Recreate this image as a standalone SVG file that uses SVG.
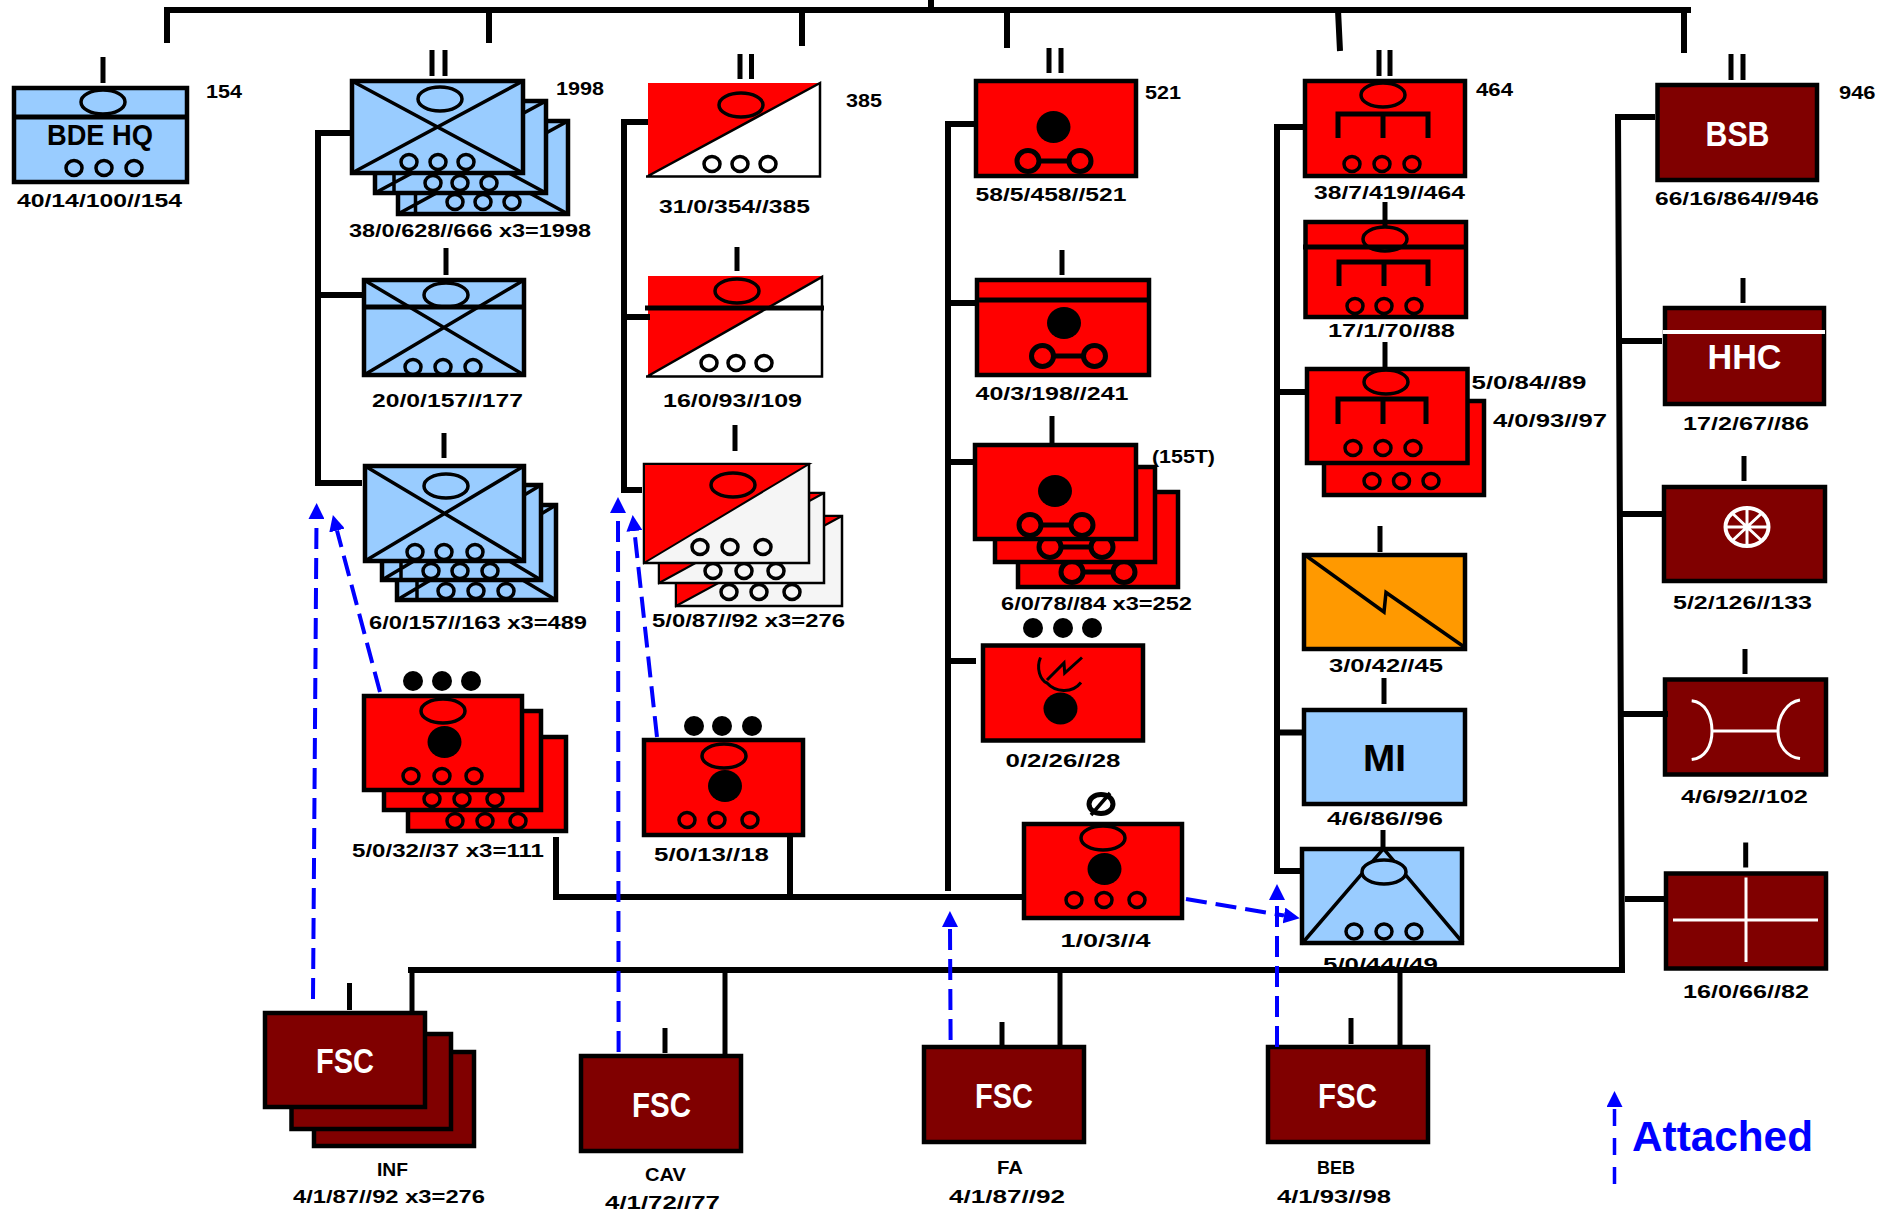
<svg xmlns="http://www.w3.org/2000/svg" width="1898" height="1214" viewBox="0 0 1898 1214">
<style>
text{font-family:"Liberation Sans",Arial,sans-serif;font-weight:bold;fill:#000}
.l{font-size:18.5px}
.w{font-size:35px;fill:#fff}
.b{fill:#99CCFF;stroke:#000;stroke-width:4.5}
.r{fill:#FF0000;stroke:#000;stroke-width:4.5}
.d{fill:#800000;stroke:#000;stroke-width:4.5}
.o{fill:#FF9900;stroke:#000;stroke-width:4.5}
.g{fill:#F5F5F5;stroke:#000;stroke-width:2.5}
.k{fill:none;stroke:#000;stroke-width:3.5}
.m{fill:none;stroke:#000;stroke-width:5}
.f{fill:none;stroke:#000;stroke-width:6}
.x{fill:none;stroke:#fff;stroke-width:3}
.a{fill:none;stroke:#0000FF;stroke-width:4;stroke-dasharray:21 9;marker-end:url(#head)}
</style>
<defs>
<ellipse id="c" rx="8" ry="7.5" fill="none" stroke="#000" stroke-width="3.5"/>
<ellipse id="e" rx="22" ry="12" fill="none" stroke="#000" stroke-width="3.5"/>
<ellipse id="dot" rx="10" ry="10" fill="#000"/>
<ellipse id="bk" rx="17" ry="16" fill="#000"/>
<g id="ring" fill="none" stroke="#000"><ellipse cx="-26" rx="11" ry="10.5" stroke-width="5"/><ellipse cx="26" rx="11" ry="10.5" stroke-width="5"/><path d="M-15,0H15" stroke-width="5"/></g>
<marker id="head" viewBox="0 0 16 16" markerWidth="16" markerHeight="16" refX="0" refY="8" orient="auto" markerUnits="userSpaceOnUse"><path d="M0,0L16,8L0,16z" fill="#0000FF"/></marker>
</defs>

<g id="bde-hq">
<rect class="b" x="14" y="88" width="173" height="94"/><path class="m" d="M12,117H189"/>
<use href="#e" x="103" y="102"/><path class="m" d="M103,57V83"/>
<text x="47" y="145" font-size="29" textLength="106" lengthAdjust="spacingAndGlyphs">BDE HQ</text>
<use href="#c" x="74" y="168"/><use href="#c" x="104" y="168"/><use href="#c" x="134" y="168"/>
<text class="l" x="17" y="207" textLength="165" lengthAdjust="spacingAndGlyphs">40/14/100//154</text>
<text class="l" x="206" y="98" textLength="36" lengthAdjust="spacingAndGlyphs">154</text>
</g>

<g id="inf-bn">
<rect class="b" x="398" y="121" width="170" height="93"/><path class="k" d="M398,214L568,121M398,121L568,214M415.500,195V216"/>
<use href="#c" x="455" y="202"/><use href="#c" x="483" y="202"/><use href="#c" x="512" y="202"/>
<rect class="b" x="375" y="101" width="171" height="92"/><path class="k" d="M375,193L546,101M375,101L546,193M394,175V195"/>
<use href="#c" x="433" y="183"/><use href="#c" x="460" y="183"/><use href="#c" x="489" y="183"/>
<rect class="b" x="352" y="81" width="171" height="92"/><path class="k" d="M352,173L523,81M352,81L523,173"/>
<use href="#e" x="440" y="99"/><use href="#c" x="409" y="162"/><use href="#c" x="438" y="162"/><use href="#c" x="466" y="162"/>
<path class="m" d="M432,50V76M445,50V76"/>
<text class="l" x="556" y="95" textLength="48" lengthAdjust="spacingAndGlyphs">1998</text>
<text class="l" x="349" y="237" textLength="242" lengthAdjust="spacingAndGlyphs">38/0/628//666 x3=1998</text>
</g>

<g id="inf-hhc">
<rect class="b" x="364" y="280" width="160" height="95"/><path class="k" d="M364,375L524,280M364,280L524,375"/><path class="m" d="M365,307H525"/>
<use href="#e" x="446" y="295"/><use href="#c" x="413" y="367"/><use href="#c" x="443" y="367"/><use href="#c" x="473" y="367"/>
<path class="m" d="M446,248V275"/>
<text class="l" x="372" y="407" textLength="151" lengthAdjust="spacingAndGlyphs">20/0/157//177</text>
</g>

<g id="inf-co">
<rect class="b" x="397" y="505" width="159" height="95"/><path class="k" d="M397,600L556,505M397,505L556,600M417,582V602"/>
<use href="#c" x="446" y="591"/><use href="#c" x="476" y="591"/><use href="#c" x="506" y="591"/>
<rect class="b" x="382" y="485" width="159" height="95"/><path class="k" d="M382,580L541,485M382,485L541,580M401,563V582"/>
<use href="#c" x="431" y="571"/><use href="#c" x="460" y="571"/><use href="#c" x="490" y="571"/>
<rect class="b" x="365" y="466" width="159" height="95"/><path class="k" d="M365,561L524,466M365,466L524,561"/>
<use href="#e" x="446" y="486"/><use href="#c" x="415" y="552"/><use href="#c" x="444" y="552"/><use href="#c" x="475" y="552"/>
<path class="m" d="M444,433V458"/>
<text class="l" x="369" y="629" textLength="218" lengthAdjust="spacingAndGlyphs">6/0/157//163 x3=489</text>
</g>

<g id="inf-mortar">
<rect class="r" x="408" y="737" width="158" height="94"/><use href="#c" x="455" y="821"/><use href="#c" x="485" y="821"/><use href="#c" x="518" y="821"/>
<rect class="r" x="384" y="711" width="157" height="99"/><use href="#c" x="432" y="799"/><use href="#c" x="462" y="799"/><use href="#c" x="495" y="799"/>
<rect class="r" x="364" y="696" width="158" height="94"/>
<use href="#e" x="443" y="711"/><use href="#bk" x="444.500" y="742"/><use href="#c" x="411" y="776"/><use href="#c" x="442" y="776"/><use href="#c" x="474" y="776"/>
<use href="#dot" x="413" y="681"/><use href="#dot" x="442" y="681"/><use href="#dot" x="471" y="681"/>
<text class="l" x="352" y="857" textLength="192" lengthAdjust="spacingAndGlyphs">5/0/32//37 x3=111</text>
</g>

<g id="cav-mortar">
<rect class="r" x="644" y="740" width="159" height="95"/>
<use href="#e" x="724" y="756"/><use href="#bk" x="725" y="786"/><use href="#c" x="687" y="820"/><use href="#c" x="717" y="820"/><use href="#c" x="750" y="820"/>
<use href="#dot" x="694" y="726"/><use href="#dot" x="722" y="726"/><use href="#dot" x="752" y="726"/>
<text class="l" x="654" y="861" textLength="115" lengthAdjust="spacingAndGlyphs">5/0/13//18</text>
</g>

<g id="cav-sqn">
<path d="M648,83H820V176H648z" fill="#fff" stroke="none"/>
<path d="M648,83H820L648,176z" fill="#FF0000"/>
<path d="M646,176.500H820V83L648,176" fill="none" stroke="#000" stroke-width="2.5"/>
<use href="#e" x="741" y="105"/><use href="#c" x="712" y="164"/><use href="#c" x="740" y="164"/><use href="#c" x="768" y="164"/>
<path class="m" d="M740,54V79M751.500,54V79"/>
<text class="l" x="846" y="107" textLength="36" lengthAdjust="spacingAndGlyphs">385</text>
<text class="l" x="659" y="213" textLength="151" lengthAdjust="spacingAndGlyphs">31/0/354//385</text>
</g>

<g id="cav-hhc">
<path d="M648,276H822V376H648z" fill="#fff" stroke="none"/>
<path d="M648,276H822L648,376z" fill="#FF0000"/>
<path d="M646,376.500H822V277L648,376" fill="none" stroke="#000" stroke-width="2.5"/>
<path class="m" d="M645,308H824"/>
<use href="#e" x="737" y="291"/><use href="#c" x="709" y="363"/><use href="#c" x="736" y="363"/><use href="#c" x="764" y="363"/>
<path class="m" d="M737,247V271"/>
<text class="l" x="663" y="407" textLength="139" lengthAdjust="spacingAndGlyphs">16/0/93//109</text>
</g>

<g id="cav-troop">
<rect class="g" x="676" y="516" width="166" height="90"/><path d="M676,606L842,516H676z" fill="#FF0000" stroke="#000" stroke-width="2"/>
<use href="#c" x="729" y="592"/><use href="#c" x="759" y="592"/><use href="#c" x="792" y="592"/>
<rect class="g" x="659" y="493" width="165" height="90"/><path d="M659,583L824,493H659z" fill="#FF0000" stroke="#000" stroke-width="2"/>
<use href="#c" x="713" y="571"/><use href="#c" x="744" y="571"/><use href="#c" x="776" y="571"/>
<rect class="g" x="644" y="464" width="165" height="99"/><path d="M644,563L809,464H644z" fill="#FF0000" stroke="#000" stroke-width="2"/>
<use href="#e" x="733" y="485"/><use href="#c" x="700" y="547"/><use href="#c" x="730" y="547"/><use href="#c" x="763" y="547"/>
<path class="m" d="M735,425V451"/>
<text class="l" x="652" y="627" textLength="193" lengthAdjust="spacingAndGlyphs">5/0/87//92 x3=276</text>
</g>

<g id="fa-bn">
<rect class="r" x="976" y="81" width="160" height="95"/><use href="#bk" x="1053.500" y="127"/><use href="#ring" x="1054" y="161"/>
<path class="m" d="M1049,48V73M1061,48V73"/>
<text class="l" x="1145" y="99" textLength="36" lengthAdjust="spacingAndGlyphs">521</text>
<text class="l" x="975.500" y="201" textLength="151" lengthAdjust="spacingAndGlyphs">58/5/458//521</text>
</g>

<g id="fa-hhb">
<rect class="r" x="977" y="280" width="172" height="95"/><path class="m" d="M975,300H1151"/>
<use href="#bk" x="1064" y="323"/><use href="#ring" x="1068.500" y="356"/>
<path class="m" d="M1062,250V275"/>
<text class="l" x="975.500" y="400" textLength="153" lengthAdjust="spacingAndGlyphs">40/3/198//241</text>
</g>

<g id="fa-bty">
<rect class="r" x="1018" y="492" width="160" height="95"/><use href="#ring" x="1098" y="572"/>
<rect class="r" x="995" y="467" width="160" height="95"/><use href="#ring" x="1076" y="547"/>
<rect class="r" x="975" y="445" width="161" height="94"/><use href="#bk" x="1055" y="491"/><use href="#ring" x="1056" y="525"/>
<path class="m" d="M1052,416V443"/>
<text class="l" x="1152" y="463" textLength="63" lengthAdjust="spacingAndGlyphs">(155T)</text>
<text class="l" x="1001" y="610" textLength="191" lengthAdjust="spacingAndGlyphs">6/0/78//84 x3=252</text>
</g>

<g id="fa-radar">
<rect class="r" x="983" y="645.500" width="160" height="95"/>
<use href="#dot" x="1033" y="628"/><use href="#dot" x="1063" y="628"/><use href="#dot" x="1092" y="628"/>
<use href="#bk" x="1060.500" y="708.500"/>
<path fill="none" stroke="#000" stroke-width="3" d="M1040.500,657.500C1036,668 1040,680 1047,683C1055,692 1072,694 1081,682.500M1047,680L1064,663L1064.700,673L1082,657.500"/>
<text class="l" x="1005.500" y="767" textLength="115" lengthAdjust="spacingAndGlyphs">0/2/26//28</text>
</g>

<g id="fa-mortar">
<rect class="r" x="1024" y="824" width="158" height="94"/>
<ellipse cx="1101" cy="804" rx="12" ry="9.500" fill="none" stroke="#000" stroke-width="5"/><path class="k" d="M1110,793L1091,815"/>
<use href="#e" x="1103" y="838"/><use href="#bk" x="1104.500" y="869"/><use href="#c" x="1074" y="900"/><use href="#c" x="1104" y="900"/><use href="#c" x="1137" y="900"/>
<text class="l" x="1060.500" y="947" textLength="90" lengthAdjust="spacingAndGlyphs">1/0/3//4</text>
</g>

<g id="beb-bn">
<rect class="r" x="1305" y="81" width="160" height="95"/><use href="#e" x="1383" y="95"/>
<path class="m" d="M1338,138V114H1428V138M1383,114V138"/>
<use href="#c" x="1352" y="164"/><use href="#c" x="1382" y="164"/><use href="#c" x="1412" y="164"/>
<path class="m" d="M1379,50V76M1390,50V76"/>
<text class="l" x="1476" y="96" textLength="37" lengthAdjust="spacingAndGlyphs">464</text>
<text class="l" x="1314" y="199" textLength="151" lengthAdjust="spacingAndGlyphs">38/7/419//464</text>
</g>

<g id="beb-hhc">
<rect class="r" x="1305.500" y="222" width="160.500" height="95"/><path class="m" d="M1303,247H1468"/><use href="#e" x="1385" y="239"/>
<path class="m" d="M1339,286V262H1428V286M1384,262V286"/>
<use href="#c" x="1355" y="306"/><use href="#c" x="1384" y="306"/><use href="#c" x="1414" y="306"/>
<path class="m" d="M1385,202V227"/>
<text class="l" x="1328" y="337" textLength="127" lengthAdjust="spacingAndGlyphs">17/1/70//88</text>
</g>

<g id="beb-co">
<rect class="r" x="1324" y="401" width="160" height="94"/><use href="#c" x="1372" y="481"/><use href="#c" x="1401.500" y="481"/><use href="#c" x="1431" y="481"/>
<rect class="r" x="1307" y="369" width="160.500" height="94"/><use href="#e" x="1386" y="382"/>
<path class="m" d="M1338,424V399H1426V424M1383,399V424"/>
<use href="#c" x="1353" y="448"/><use href="#c" x="1383" y="448"/><use href="#c" x="1413" y="448"/>
<path class="m" d="M1385,342V369"/>
<text class="l" x="1471.500" y="389" textLength="115" lengthAdjust="spacingAndGlyphs">5/0/84//89</text>
<text class="l" x="1493" y="427" textLength="114" lengthAdjust="spacingAndGlyphs">4/0/93//97</text>
</g>

<g id="signal">
<rect class="o" x="1304" y="555" width="161" height="94"/>
<path class="k" d="M1305,555L1384,612L1386,592.500L1465,647.500"/>
<path class="m" d="M1380,526V552"/>
<text class="l" x="1329" y="672" textLength="114" lengthAdjust="spacingAndGlyphs">3/0/42//45</text>
</g>

<g id="mi">
<rect class="b" x="1304" y="710" width="161" height="94"/>
<text x="1363" y="771" font-size="36" textLength="43" lengthAdjust="spacingAndGlyphs">MI</text>
<path class="m" d="M1384,678V704"/>
<text class="l" x="1327" y="825" textLength="116" lengthAdjust="spacingAndGlyphs">4/6/86//96</text>
</g>

<g id="ad">
<rect class="b" x="1302" y="849" width="160" height="94"/>
<path class="k" d="M1301.600,944L1383.500,848.600L1463,943"/>
<ellipse cx="1384" cy="872" rx="22" ry="12" fill="#99CCFF" stroke="#000" stroke-width="3.500"/>
<use href="#c" x="1354" y="931.500"/><use href="#c" x="1384" y="931.500"/><use href="#c" x="1414" y="931.500"/>
<path class="m" d="M1383,830V847"/>
<text class="l" x="1323" y="971" textLength="115" lengthAdjust="spacingAndGlyphs">5/0/44//49</text>
</g>

<g id="bsb">
<rect class="d" x="1657.500" y="85" width="159.500" height="95"/>
<text class="w" x="1705.500" y="146" textLength="64" lengthAdjust="spacingAndGlyphs">BSB</text>
<path class="m" d="M1731,54V80M1743,54V80"/>
<text class="l" x="1839" y="99" textLength="36.500" lengthAdjust="spacingAndGlyphs">946</text>
<text class="l" x="1655" y="205" textLength="164" lengthAdjust="spacingAndGlyphs">66/16/864//946</text>
</g>

<g id="bsb-hhc">
<rect class="d" x="1665" y="308" width="159" height="96"/>
<path class="x" stroke-width="4" style="stroke-width:4" d="M1663,332H1825"/>
<text class="w" x="1707.500" y="369" textLength="74" lengthAdjust="spacingAndGlyphs">HHC</text>
<path class="m" d="M1743,278V303"/>
<text class="l" x="1683" y="430" textLength="126" lengthAdjust="spacingAndGlyphs">17/2/67//86</text>
</g>

<g id="supply">
<rect class="d" x="1664" y="487" width="161" height="94"/>
<ellipse cx="1747" cy="527" rx="21.500" ry="19" fill="none" stroke="#fff" stroke-width="4"/>
<path class="x" d="M1747,508V546M1725.500,527H1768.500M1732,513L1762,541M1762,513L1732,541"/>
<path class="m" d="M1744,456V481"/>
<text class="l" x="1673" y="608.500" textLength="139" lengthAdjust="spacingAndGlyphs">5/2/126//133</text>
</g>

<g id="maint">
<rect class="d" x="1665" y="679.500" width="161" height="95"/>
<path class="x" d="M1691.700,700.700C1705,702 1712,716 1712,731C1712,746 1705,758 1691.700,759.600M1800,700C1787,702 1778,716 1778,731C1778,746 1787,757 1800,758.600M1712,731H1778"/>
<path class="m" d="M1745,649V674"/>
<text class="l" x="1681" y="802.500" textLength="127" lengthAdjust="spacingAndGlyphs">4/6/92//102</text>
</g>

<g id="medical">
<rect class="d" x="1666" y="873.500" width="160" height="95"/>
<path class="x" d="M1746,877.500V962M1673,920H1818"/>
<path class="m" d="M1745.700,842.500V867.500"/>
<text class="l" x="1683" y="998" textLength="126" lengthAdjust="spacingAndGlyphs">16/0/66//82</text>
</g>

<g id="fsc-inf">
<rect class="d" x="314" y="1052" width="160" height="94"/>
<rect class="d" x="291.500" y="1034" width="159.500" height="95"/>
<rect class="d" x="265" y="1013" width="160" height="94"/>
<text class="w" x="316" y="1073" textLength="58" lengthAdjust="spacingAndGlyphs">FSC</text>
<path class="m" d="M349.500,983V1010"/>
<text class="l" x="377" y="1176" textLength="31" lengthAdjust="spacingAndGlyphs">INF</text>
<text class="l" x="293" y="1203" textLength="192" lengthAdjust="spacingAndGlyphs">4/1/87//92 x3=276</text>
</g>

<g id="fsc-cav">
<rect class="d" x="581" y="1056" width="160" height="95"/>
<text class="w" x="632" y="1117" textLength="59" lengthAdjust="spacingAndGlyphs">FSC</text>
<path class="m" d="M665,1028V1053"/>
<text class="l" x="645" y="1181" textLength="41" lengthAdjust="spacingAndGlyphs">CAV</text>
<text class="l" x="605" y="1209" textLength="115" lengthAdjust="spacingAndGlyphs">4/1/72//77</text>
</g>

<g id="fsc-fa">
<rect class="d" x="924" y="1047" width="160" height="95"/>
<text class="w" x="975" y="1108" textLength="58" lengthAdjust="spacingAndGlyphs">FSC</text>
<path class="m" d="M1002,1022V1045"/>
<text class="l" x="997" y="1174" textLength="26" lengthAdjust="spacingAndGlyphs">FA</text>
<text class="l" x="949" y="1203" textLength="116" lengthAdjust="spacingAndGlyphs">4/1/87//92</text>
</g>

<g id="fsc-beb">
<rect class="d" x="1268" y="1047" width="160" height="95"/>
<text class="w" x="1318" y="1108" textLength="59" lengthAdjust="spacingAndGlyphs">FSC</text>
<path class="m" d="M1351,1018V1044"/>
<text class="l" x="1317" y="1174" textLength="38" lengthAdjust="spacingAndGlyphs">BEB</text>
<text class="l" x="1277" y="1203" textLength="114" lengthAdjust="spacingAndGlyphs">4/1/93//98</text>
</g>

<g id="connectors">
<path class="f" d="M167,43V10H1691"/>
<path class="f" d="M489,10V43M802,10V46M931,0V10M1007,8V48M1338,10L1340,51M1684,10V53"/>
<path class="f" d="M350,133H318V483H362M318,295H362"/>
<path class="f" d="M648,122H624V490H642M624,317H650"/>
<path class="f" d="M974,124H948V891M948,303H976M948,462H976M948,661H976"/>
<path class="f" d="M1303,127H1277V871H1300M1277,392H1305M1277,732.500H1302"/>
<path class="f" d="M1655,117H1618L1622,970H408M1618,341H1662M1620,514H1665M1622,714H1668M1625,899H1664"/>
<path class="m" d="M412,970V1011M725,970V1054M1060,970V1048M1400,970V1048"/>
<path class="f" d="M556,837V897H1024M790,837V897"/>
</g>

<g id="attached">
<path class="a" d="M313,999L316.500,519"/>
<path class="a" d="M380,692L337,530.500"/>
<path class="a" d="M618.600,1052L618,513"/>
<path class="a" d="M657,737L634.400,531"/>
<path class="a" d="M950.600,1040L950,927"/>
<path class="a" d="M1277,1047V900"/>
<path class="a" d="M1186,899L1284,915.500"/>
<path class="a" style="stroke-dasharray:17 12;stroke-width:3.500" d="M1614.500,1184V1107"/>
<text x="1632" y="1151" font-size="42" style="fill:#0000FF" textLength="181" lengthAdjust="spacingAndGlyphs">Attached</text>
</g>
</svg>
